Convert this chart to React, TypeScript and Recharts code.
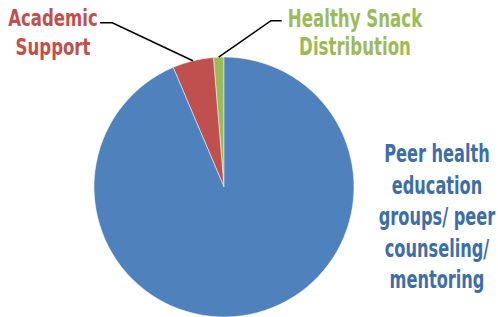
import { PieChart, Pie, Cell } from "recharts";

const names = ["Healthy Snack Distribution", "Academic Support", "Peer health education groups/ peer counseling/ mentoring"];
const shares = [1.3, 5.1, 93.6];
const colors = ["#9BBB59", "#C0504D", "#4F81BD"];
const labelLines = [
  ["Healthy Snack", "Distribution"],
  ["Academic", "Support"],
  ["Peer health", "education", "groups/  peer", "counseling/", "mentoring"],
];

const data = names.map((name, i) => ({ name, value: shares[i] }));

// where each label sits on the slide
const LAYOUT = [
  { x: 355, y: 26.5, step: 28, size: 24, sx: 0.77, color: "#9BBB59", elbow: [271, 20.7], end: [281.7, 20.7] },
  { x: 53, y: 26, step: 29, size: 23, sx: 0.8, color: "#C0504D", elbow: [112.3, 22.7], end: [100, 22.7] },
  { x: 437, y: 162, step: 31.5, size: 25, sx: 0.72, color: "#3E6DA8", elbow: null, end: null },
];

const RAD = Math.PI / 180;
const FONT = "'DejaVu Sans Condensed', sans-serif";

function renderLabel(props: any) {
  const { cx, cy, midAngle, outerRadius, index } = props;
  const l = LAYOUT[index];
  const px = cx + outerRadius * Math.cos(-midAngle * RAD);
  const py = cy + outerRadius * Math.sin(-midAngle * RAD);
  return (
    <g key={index}>
      {l.elbow && (
        <polyline
          points={`${px},${py} ${l.elbow[0]},${l.elbow[1]} ${l.end![0]},${l.end![1]}`}
          fill="none"
          stroke="#000"
          strokeWidth={1.6}
        />
      )}
      {labelLines[index].map((line, j) => (
        <g key={j} transform={`translate(${l.x},${l.y + j * l.step}) scale(${l.sx},1)`}>
          <text
            x={0}
            y={0}
            textAnchor="middle"
            fill={l.color}
            fontFamily={FONT}
            fontWeight="bold"
            fontSize={l.size}
          >
            {line}
          </text>
        </g>
      ))}
    </g>
  );
}

export default function App() {
  return (
    <div style={{ position: "absolute", left: 0, top: 0, width: 498, height: 317, background: "#fff" }}>
      <PieChart width={498} height={317} margin={{ top: 0, right: 0, bottom: 0, left: 0 }}>
        <Pie
          data={data}
          dataKey="value"
          nameKey="name"
          cx={224}
          cy={187}
          outerRadius={130}
          startAngle={90}
          endAngle={450}
          stroke="#ffffff"
          strokeWidth={0.5}
          label={renderLabel}
          labelLine={false}
          isAnimationActive={false}
        >
          {data.map((d, i) => (
            <Cell key={d.name} fill={colors[i]} />
          ))}
        </Pie>
      </PieChart>
    </div>
  );
}
